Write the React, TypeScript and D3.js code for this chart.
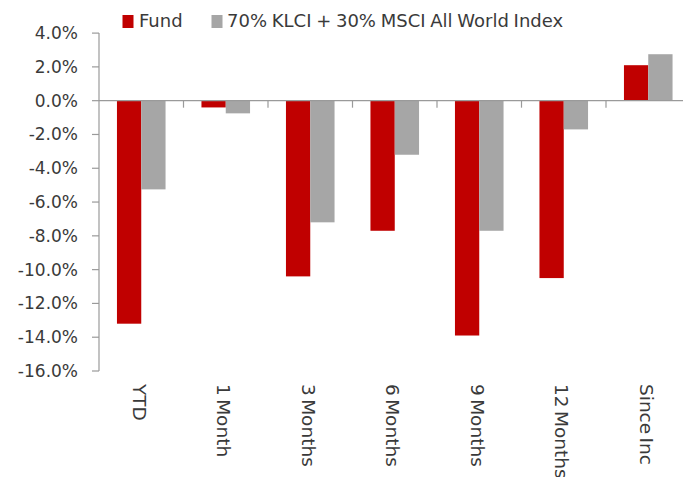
import React from "react";
import * as d3 from "d3";

const categories = ["YTD", "1 Month", "3 Months", "6 Months", "9 Months", "12 Months", "Since Inc"];
const seriesNames = ["Fund", "70% KLCI + 30% MSCI All World Index"];
const fundValues = [-13.2, -0.4, -10.4, -7.7, -13.9, -10.5, 2.1];
const benchValues = [-5.25, -0.75, -7.2, -3.2, -7.7, -1.7, 2.75];
const yTicks = [4, 2, 0, -2, -4, -6, -8, -10, -12, -14, -16];
const colors = ["#C00000", "#A6A6A6"];

const W = 683;
const H = 477;

export default function App() {
  const y = d3.scaleLinear().domain([-16, 4]).range([371, 33.1]);
  const x = d3
    .scaleBand<string>()
    .domain(categories)
    .range([99, 690.5])
    .paddingInner(0.425)
    .paddingOuter(0.2125);
  const xs = d3.scaleBand<string>().domain(seriesNames).range([0, x.bandwidth()]);
  const step = x.step();
  const axisColor = "#9a9a9a";
  const font = "'DejaVu Sans', Verdana, sans-serif";
  const textColor = "#3a3a3a";
  const series = [fundValues, benchValues];

  return (
    <svg
      width={W}
      height={H}
      style={{ position: "absolute", left: 0, top: 0, background: "#fff" }}
      fontFamily={font}
    >
      {/* Legend */}
      <rect x={122.5} y={15} width={11} height={13} fill={colors[0]} />
      <text x={139} y={27} fontSize={18} fill={textColor}>
        {seriesNames[0]}
      </text>
      <rect x={211.5} y={15} width={11} height={13} fill={colors[1]} />
      <text x={227} y={27} fontSize={18} fill={textColor} wordSpacing={-1}>
        {seriesNames[1]}
      </text>

      {/* Bars */}
      {series.map((vals, si) =>
        vals.map((v, i) => {
          const x0 = (x(categories[i]) as number) + (xs(seriesNames[si]) as number);
          const y0 = y(Math.max(0, v));
          const h = Math.abs(y(v) - y(0));
          return (
            <rect
              key={`${si}-${i}`}
              x={x0}
              y={y0}
              width={xs.bandwidth()}
              height={h}
              fill={colors[si]}
            />
          );
        })
      )}

      {/* Y axis */}
      <line x1={99} x2={99} y1={y(4)} y2={y(-16)} stroke={axisColor} strokeWidth={1.2} />
      {yTicks.map((t) => (
        <g key={t}>
          <line x1={92} x2={99} y1={y(t)} y2={y(t)} stroke={axisColor} strokeWidth={1.2} />
          <text
            x={78}
            y={y(t)}
            textAnchor="end"
            dominantBaseline="central"
            fontSize={17}
            fill={textColor}
          >
            {t.toFixed(1) + "%"}
          </text>
        </g>
      ))}

      {/* X axis (zero line) */}
      <line x1={99} x2={690} y1={y(0)} y2={y(0)} stroke={axisColor} strokeWidth={1.2} />
      {categories.map((c, i) => {
        const bx = (x(c) as number) - (step - x.bandwidth()) / 2;
        return i === 0 ? null : (
          <line key={c} x1={bx} x2={bx} y1={y(0)} y2={y(0) + 7} stroke={axisColor} strokeWidth={1.2} />
        );
      })}

      {/* X labels */}
      {categories.map((c) => {
        const cx = (x(c) as number) + x.bandwidth() / 2 - 2;
        return (
          <text
            key={c}
            transform={`translate(${cx},384) rotate(90)`}
            dominantBaseline="central"
            fontSize={18.5}
            wordSpacing={-2.5}
            fill={textColor}
          >
            {c}
          </text>
        );
      })}
    </svg>
  );
}
